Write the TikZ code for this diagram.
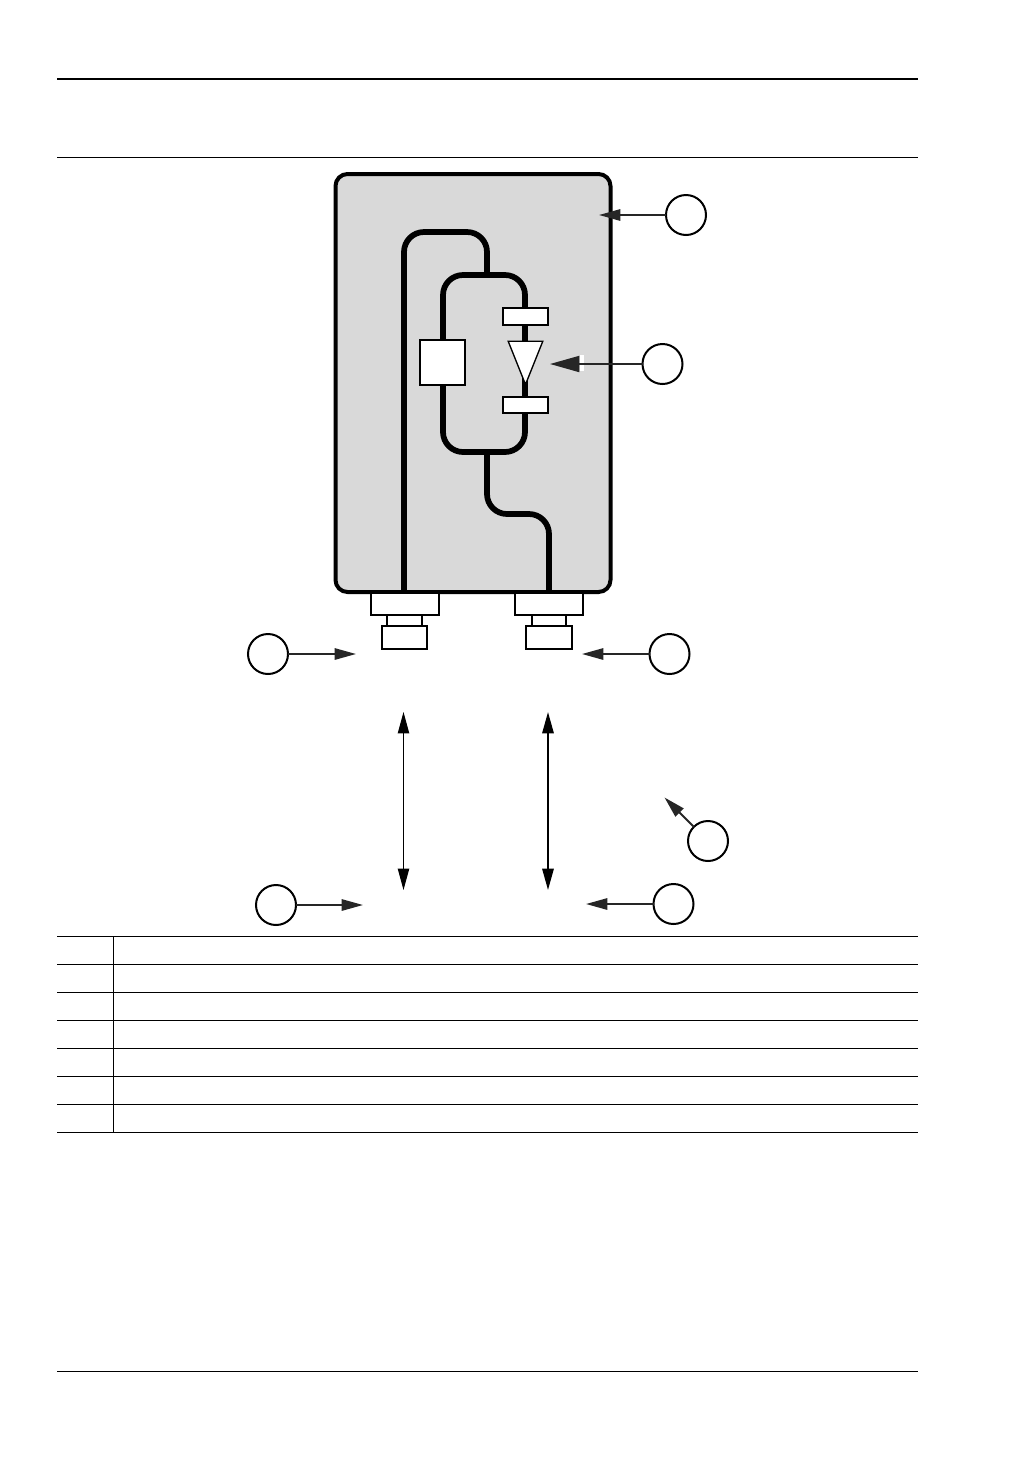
\documentclass[tikz,border=0pt]{standalone}
\usepackage{xcolor}
\usetikzlibrary{arrows.meta,positioning,shapes.geometric}
\definecolor{housing}{HTML}{D9D9D9}
\definecolor{arrowgray}{HTML}{262626}
\tikzset{
  vcase/.style={draw=black,fill=housing,line width=3pt,rounded corners=9pt,inner sep=0pt,outer sep=0pt},
  vpart/.style={draw=black,fill=white,line width=1.4pt,inner sep=0pt,outer sep=0pt},
  vcall/.style={circle,draw=black,fill=white,line width=1.5pt,minimum size=30pt,inner sep=0pt,outer sep=0pt},
  vfeed/.style={line width=4.3pt,draw=black},
  vcallarr/.style={-{Triangle[length=16pt,width=8.5pt]},line width=1.4pt,draw=arrowgray,fill=arrowgray},
  vlinkarr/.style={{Triangle[length=16pt,width=8.5pt]}-{Triangle[length=16pt,width=8.5pt]},draw=black},
  vrule/.style={line width=0.75pt,draw=black}
}
\begin{document}
\begin{tikzpicture}[x=0.75pt,y=-0.75pt]
  \useasboundingbox[fill=white] (0,0) rectangle (1032,1457);
  % page rules, 1 unit = 1 px of the page
  \coordinate (headL) at (57,79);   \coordinate (headR) at (918,79);
  \coordinate (titleL) at (57,157); \coordinate (titleR) at (918,157);
  \coordinate (footL) at (57,1371); \coordinate (footR) at (918,1371);
  \draw[line width=1.9pt] (headL) -- (headR);
  \draw[vrule] (titleL) -- (titleR);
  \draw[vrule] (footL) -- (footR);
  % housing
  \node[vcase,minimum width=206.25pt,minimum height=313.5pt] (housing) at (473,383) {};
  \coordinate (feedL) at (404,592);
  \coordinate (feedR) at (549,592);
  \coordinate (feedLtop) at (404,232);
  \coordinate (feedMtop) at (487,232);
  \coordinate (loopT) at (487,275);
  \coordinate (loopB) at (487,452);
  \coordinate (feedMbot) at (487,514);
  \coordinate (feedRbot) at (549,514);
  \draw[vfeed,rounded corners=15pt] (feedL) -- (feedLtop) -- (feedMtop) -- (loopT);
  \draw[vfeed,rounded corners=15pt] (loopB) -- (feedMbot) -- (feedRbot) -- (feedR);
  \node[draw=black,line width=4.3pt,rounded corners=15pt,minimum width=61.5pt,minimum height=132.75pt,inner sep=0pt,outer sep=0pt] (loop) at (484,363.5) {};
  \node[vpart,minimum width=33.75pt,minimum height=33.75pt] (switch) at (442.5,362.5) {};
  \node[vpart,minimum width=34pt,minimum height=12.5pt] (filterT) at (525.5,316.5) {};
  \node[vpart,minimum width=34pt,minimum height=12.5pt] (filterB) at (525.5,405) {};
  \node[vpart,isosceles triangle,isosceles triangle stretches,shape border rotate=-90,minimum width=26pt,minimum height=32.5pt,line width=1pt,anchor=apex] (amp) at (525.5,384.5) {};
  % connectors
  \node[vpart,minimum width=26pt,minimum height=11pt] (neckL) at (404.5,620.5) {};
  \node[vpart,minimum width=51pt,minimum height=17pt] (flangeL) at (405,604) {};
  \node[vpart,minimum width=34pt,minimum height=17.5pt] (nutL) at (404.5,637.5) {};
  \node[vpart,minimum width=26pt,minimum height=11pt] (neckR) at (549,620.5) {};
  \node[vpart,minimum width=51pt,minimum height=17pt] (flangeR) at (549,604) {};
  \node[vpart,minimum width=34pt,minimum height=17.5pt] (nutR) at (549,637.5) {};
  % callouts
  \node[vcall] (callA) at (686,215) {};
  \node[vcall] (callB) at (662.5,364) {};
  \node[vcall] (callC) at (268,654) {};
  \node[vcall] (callD) at (669.5,654) {};
  \node[vcall] (callE) at (708,841) {};
  \node[vcall] (callF) at (276,905) {};
  \node[vcall] (callG) at (673.5,904) {};
  \coordinate (tipA) at (599,215);
  \coordinate (tipB) at (550,364);
  \coordinate (tipC) at (356,654);
  \coordinate (tipD) at (582,654);
  \coordinate (tipE) at (664.5,797.5);
  \coordinate (tipF) at (363,905);
  \coordinate (tipG) at (586,904);
  \fill[white] (580,355) rectangle (584,371);
  \draw[vcallarr] (callA) -- (tipA);
  \draw[vcallarr,-{Triangle[length=22pt,width=12pt]}] (callB) -- (tipB);
  \draw[vcallarr] (callC) -- (tipC);
  \draw[vcallarr] (callD) -- (tipD);
  \draw[vcallarr] (callE) -- (tipE);
  \draw[vcallarr] (callF) -- (tipF);
  \draw[vcallarr] (callG) -- (tipG);
  % links to the outside
  \coordinate (linkLt) at (403.5,712);
  \coordinate (linkLb) at (403.5,890);
  \coordinate (linkRt) at (548,712);
  \coordinate (linkRb) at (548,890);
  \draw[vlinkarr,line width=0.8pt] (linkLt) -- (linkLb);
  \draw[vlinkarr,line width=1.5pt] (linkRt) -- (linkRb);
  % table
  \foreach \rowy in {936.5,964.5,992.5,1020.5,1048.5,1076.5,1104.5,1132.5}{
    \coordinate (rowL) at (57,\rowy);
    \coordinate (rowR) at (918,\rowy);
    \draw[vrule] (rowL) -- (rowR);
  }
  \coordinate (colT) at (113.5,936.5);
  \coordinate (colB) at (113.5,1132.5);
  \draw[vrule] (colT) -- (colB);
\end{tikzpicture}
\end{document}
